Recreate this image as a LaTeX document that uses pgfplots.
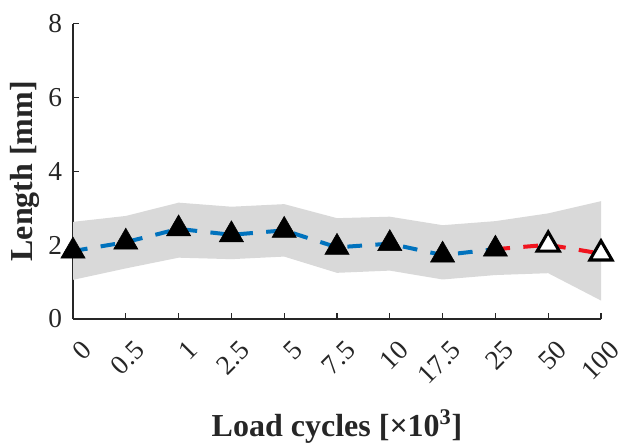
\documentclass[border=0pt]{standalone}
\usepackage{pgfplots}
\pgfplotsset{compat=1.18}
\usepackage{pgfplotstable}
\usepgfplotslibrary{fillbetween}
\usepackage{fontspec}
\setmainfont{Liberation Serif}

\definecolor{axisgray}{RGB}{38,38,38}
\definecolor{bandgray}{RGB}{217,217,217}
\definecolor{mblue}{RGB}{0,114,189}
\definecolor{mred}{RGB}{240,20,30}

% mean length and spread per load-cycle step
\pgfplotstableread{
x  y    up   lo
0  1.84 2.63 1.06
1  2.08 2.79 1.37
2  2.44 3.15 1.66
3  2.28 3.04 1.62
4  2.40 3.11 1.69
5  1.94 2.73 1.25
6  2.04 2.77 1.31
7  1.73 2.54 1.07
8  1.89 2.65 1.19
9  2.01 2.86 1.24
10 1.77 3.19 0.50
}\lengthdata

\begin{document}
\begin{tikzpicture}
\begin{axis}[
  at={(54.75pt,93pt)}, anchor=south west,
  scale only axis, width=396pt, height=221.6pt,
  clip=false,
  axis lines=left,
  axis line style={-, draw=axisgray, line width=0.9pt},
  xmin=0, xmax=10, ymin=0, ymax=8,
  xtick={0,1,2,3,4,5,6,7,8,9,10},
  xticklabels={0,0.5,1,2.5,5,7.5,10,17.5,25,50,100},
  ytick={0,2,4,6,8},
  tick align=inside,
  major tick length=4.5pt,
  tick style={draw=axisgray, line width=0.9pt},
  /pgf/number format/assume math mode=true,
  ticklabel style={font=\fontsize{20.5}{24}\selectfont, text=axisgray},
  yticklabel style={anchor=east, inner sep=0pt, xshift=-8pt},
  xticklabel style={xshift=10.5pt, yshift=-20pt, rotate=45, anchor=east, inner sep=0pt},
  xlabel={\textbf{Load cycles [×10\textsuperscript{3}]}},
  ylabel={\textbf{Length [mm]}},
  label style={font=\fontsize{24}{28}\selectfont, text=axisgray},
  xlabel style={at={(axis description cs:0.5,-0.399)}, anchor=base},
  ylabel style={at={(axis description cs:-0.0919,0.5)}, anchor=center},
]
% spread band
\addplot[name path=up, draw=none, forget plot] table[x=x, y=up] {\lengthdata};
\addplot[name path=lo, draw=none, forget plot] table[x=x, y=lo] {\lengthdata};
\addplot[bandgray, draw=none] fill between[of=up and lo];

% mean trend, first stage and late stage
\addplot[mblue, line width=3pt, dash pattern=on 11pt off 10pt, no markers,
  skip coords between index={9}{11}] table[x=x, y=y] {\lengthdata};
\addplot[mred, line width=3pt, dash pattern=on 11pt off 10pt, no markers,
  skip coords between index={0}{8}] table[x=x, y=y] {\lengthdata};

% markers
\addplot[only marks, mark=triangle*, mark size=10.5pt,
  mark options={fill=black, draw=black, line width=0.4pt},
  skip coords between index={9}{11}] table[x=x, y=y] {\lengthdata};
\addplot[only marks, mark=triangle*, mark size=9.6pt,
  mark options={fill=white, draw=black, line width=2.3pt},
  skip coords between index={0}{9}] table[x=x, y=y] {\lengthdata};
\end{axis}
\pgfresetboundingbox
\path[use as bounding box] (0,0) rectangle (464.25pt,332.25pt);
\end{tikzpicture}
\end{document}
